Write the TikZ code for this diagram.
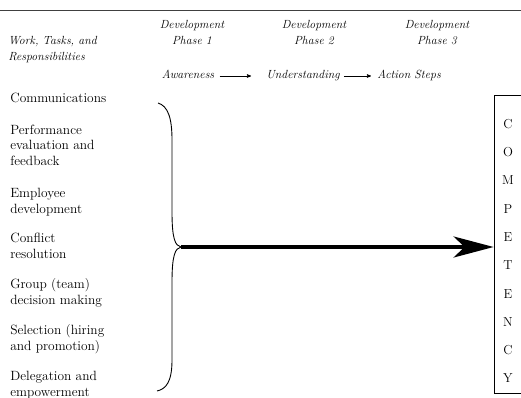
\documentclass[tikz,border=0pt]{standalone}
\usetikzlibrary{arrows,arrows.meta}

\begin{document}
\begin{tikzpicture}[x=1pt, y=-1pt, >=stealth', semithick]
  \tikzstyle{every node}=[inner sep=0pt]
  \tikzstyle{head}=[font=\fontsize{11.8}{16}\selectfont\itshape, align=center]
  \tikzstyle{stage}=[font=\fontsize{11.8}{16}\selectfont\itshape, text height=8pt, text depth=2.5pt]
  \tikzstyle{task}=[font=\fontsize{13.4}{15.5}\selectfont, align=left, anchor=base west]

  \useasboundingbox (0,0) rectangle (521,398);
  \draw[line width=0.9pt, black!75] (0,10) -- (521,10);

  % column heads (base = last line)
  \node[head, align=left, anchor=base west] (work) at (8,61) {Work, Tasks, and\\Responsibilities};
  \node[head, anchor=base] (ph1) at (192,45) {Development\\Phase 1};
  \node[head, anchor=base] (ph2) at (314,45) {Development\\Phase 2};
  \node[head, anchor=base] (ph3) at (437,45) {Development\\Phase 3};

  \node[stage] (aware)  at (188,76) {Awareness};
  \node[stage] (under)  at (303,76) {Understanding};
  \node[stage] (action) at (409,76) {Action Steps};

  \path (aware) edge[->, shorten <=5pt, shorten >=15pt] (under)
        (under) edge[->, shorten <=4pt, shorten >=6pt]  (action);

  % tasks down the left
  \node[task] (comm) at (10,103) {Communications};
  \node[task] (perf) at (10,165) {Performance\\evaluation and\\feedback};
  \node[task] (empl) at (10,213) {Employee\\development};
  \node[task] (conf) at (10,258) {Conflict\\resolution};
  \node[task] (grp)  at (10,304) {Group (team)\\decision making};
  \node[task] (sel)  at (10,350) {Selection (hiring\\and promotion)};
  \node[task] (del)  at (10,396) {Delegation and\\empowerment};

  % brace
  \coordinate (tip) at (181,247);
  \draw[line width=0.9pt] (158,103) .. controls (168,106) and (172,118) .. (172,140)
        -- (172,212) .. controls (172,238) and (175,246) .. (tip)
        .. controls (175,248) and (172,256) .. (172,282)
        -- (172,360) .. controls (172,382) and (166,389) .. (157,391);

  % competency box
  \node[draw, line width=0.8pt, minimum width=28pt, minimum height=298pt] (box) at (508,244) {};
  \node[font=\fontsize{13}{28.3}\selectfont, align=center] (comp) at (508,251)
        {C\\O\\M\\P\\E\\T\\E\\N\\C\\Y};

  \draw[line width=3.8pt, -{Stealth[length=40pt, width=21pt, inset=11pt]}] (tip) -- (tip -| box.west);
\end{tikzpicture}
\end{document}
